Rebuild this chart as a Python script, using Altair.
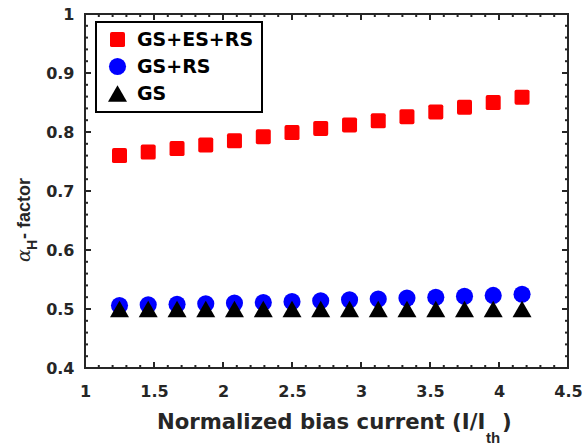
import altair as alt
import pandas as pd

# ---------------- data ----------------
bias_current = [1.250, 1.458, 1.667, 1.875, 2.083, 2.292, 2.500, 2.708,
                2.917, 3.125, 3.333, 3.542, 3.750, 3.958, 4.167]
alpha_gs_es_rs = [0.760, 0.766, 0.772, 0.778, 0.785, 0.792, 0.799, 0.806,
                  0.812, 0.819, 0.826, 0.834, 0.842, 0.850, 0.859]
alpha_gs_rs = [0.506, 0.507, 0.508, 0.509, 0.510, 0.511, 0.5125, 0.514,
               0.5155, 0.517, 0.5185, 0.520, 0.5215, 0.523, 0.525]
alpha_gs = [0.500, 0.500, 0.500, 0.500, 0.500, 0.500, 0.500, 0.500,
            0.500, 0.500, 0.500, 0.500, 0.500, 0.500, 0.500]

series_names = ["GS+ES+RS", "GS+RS", "GS"]
series_colors = ["#FF0000", "#0000FF", "#000000"]
ROUNDED_SQUARE = ("M-0.75,-1L0.75,-1Q1,-1,1,-0.75L1,0.75Q1,1,0.75,1"
                  "L-0.75,1Q-1,1,-1,0.75L-1,-0.75Q-1,-1,-0.75,-1Z")
series_shapes = [ROUNDED_SQUARE, "circle", "triangle-up"]
series_sizes = [225, 361, 400]

x_major = [1, 1.5, 2, 2.5, 3, 3.5, 4, 4.5]
y_major = [0.4, 0.5, 0.6, 0.7, 0.8, 0.9, 1.0]
x_minor = [round(1 + 0.1 * i, 1) for i in range(36) if i % 5 != 0]
y_minor = [round(0.4 + 0.02 * i, 2) for i in range(31) if i % 5 != 0]

rows = []
for name, vals in zip(series_names, [alpha_gs_es_rs, alpha_gs_rs, alpha_gs]):
    for xv, yv in zip(bias_current, vals):
        rows.append({"x": xv, "y": yv, "series": name})
df = pd.DataFrame(rows)

# ---------------- style ----------------
FG = "#262626"
TICK_FONT = "DejaVu Sans"
W, H = 483, 354
MAJ, MIN = 6, 3

xs = alt.Scale(domain=[1, 4.5], nice=False, zero=False)
ys = alt.Scale(domain=[0.4, 1.0], nice=False, zero=False)


def label_axis(orient, values, pad):
    return alt.Axis(orient=orient, values=values, ticks=False, domain=False,
                    grid=False, title=None, format=".1~f", labelFont=TICK_FONT,
                    labelFontSize=16, labelFontWeight="bold", labelColor=FG,
                    labelPadding=pad, labelFlush=False, labelOverlap=False,
                    labelBound=False)


X_AXIS = label_axis("bottom", x_major, 15)
Y_AXIS = label_axis("left", y_major, 11)

legend = alt.Legend(
    orient="none", legendX=11, legendY=8, title=None, direction="vertical",
    labelFont=TICK_FONT, labelFontSize=19, labelFontWeight="bold",
    labelColor="#000000", padding=8, rowPadding=7, symbolOffset=4,
    labelOffset=10, strokeColor="#000000", fillColor="#FFFFFF",
    symbolStrokeWidth=0,
)

points = alt.Chart(df).mark_point(filled=True, opacity=1, strokeWidth=0).encode(
    x=alt.X("x:Q", scale=xs, axis=X_AXIS),
    y=alt.Y("y:Q", scale=ys, axis=Y_AXIS),
    color=alt.Color("series:N", scale=alt.Scale(domain=series_names, range=series_colors), legend=legend),
    shape=alt.Shape("series:N", scale=alt.Scale(domain=series_names, range=series_shapes), legend=legend),
    size=alt.Size("series:N", scale=alt.Scale(domain=series_names, range=series_sizes), legend=legend),
)


# inward ticks on all four sides (box on), drawn through the same scales
def xticks(values, length, top):
    y0, y1 = (0, length) if top else (H, H - length)
    return alt.Chart(pd.DataFrame({"v": values})).mark_rule(color=FG, strokeWidth=2).encode(
        x=alt.X("v:Q", scale=xs, axis=X_AXIS), y=alt.value(y0), y2=alt.value(y1))


def yticks(values, length, right):
    x0, x1 = (W, W - length) if right else (0, length)
    return alt.Chart(pd.DataFrame({"v": values})).mark_rule(color=FG, strokeWidth=2).encode(
        y=alt.Y("v:Q", scale=ys, axis=Y_AXIS), x=alt.value(x0), x2=alt.value(x1))


ticks = [
    xticks(x_major, MAJ, False), xticks(x_minor, MIN, False),
    xticks(x_major, MAJ, True), xticks(x_minor, MIN, True),
    yticks(y_major, MAJ, False), yticks(y_minor, MIN, False),
    yticks(y_major, MAJ, True), yticks(y_minor, MIN, True),
]


# ---------------- titles (with subscripts) ----------------
def txt(s, x, y, size, font="DejaVu Sans", weight="bold", style="normal", angle=0):
    return alt.Chart(pd.DataFrame({"t": [s]})).mark_text(
        align="left", baseline="alphabetic", font=font, fontSize=size,
        fontWeight=weight, fontStyle=style, color=FG, angle=angle,
    ).encode(text="t:N", x=alt.value(x), y=alt.value(y))


xt1 = txt("Normalized bias current (I/I", 72, 415, 21.2)
xt2 = txt("th", 401, 429, 15, font="Liberation Sans")
xt3 = txt(")", 417, 415, 21.2)

yt1 = txt("α", -55, 248, 19, font="DejaVu Serif", weight="normal", style="italic", angle=270)
yt2 = txt("H", -48, 236, 14, font="Liberation Sans", angle=270)
yt3 = txt(" - factor", -55, 225, 18, font="Liberation Sans", angle=270)

chart = alt.layer(
    *ticks, points, xt1, xt2, xt3, yt1, yt2, yt3
).properties(
    width=W, height=H,
    padding={"left": 85, "top": 14, "right": 15, "bottom": 77},
    autosize=alt.AutoSizeParams(type="none"),
    background="white",
).configure_view(stroke=FG, strokeWidth=2).configure_legend(strokeWidth=2)

chart.save("out.html", embed_options={"renderer": "svg", "actions": False})
